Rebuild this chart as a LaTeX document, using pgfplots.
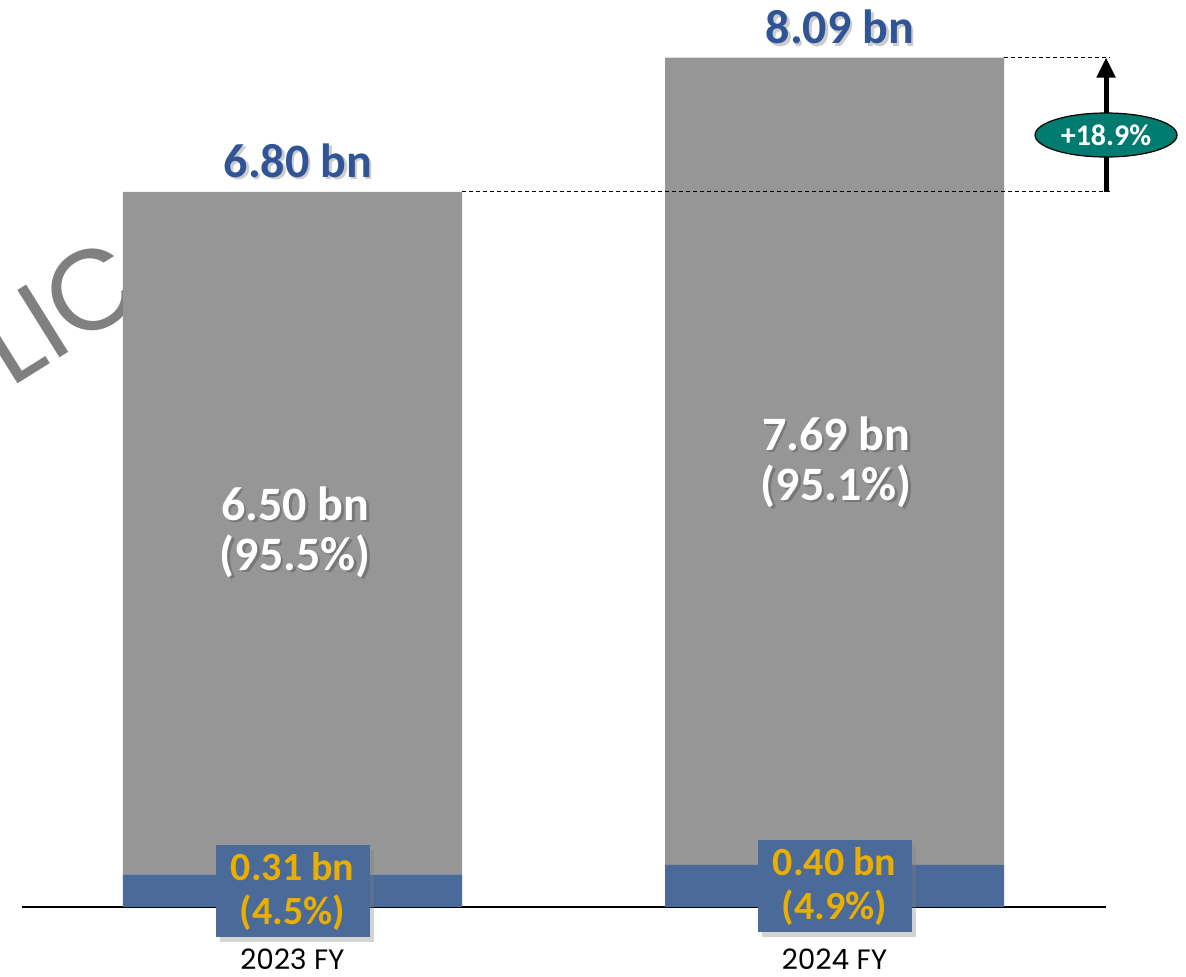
\documentclass[border=0pt]{standalone}
\usepackage{pgfplots}
\pgfplotsset{compat=1.18}
\usepackage{fontspec}
\setmainfont{Carlito}
\newfontfamily\gothic{Poppins}
\usetikzlibrary{shadows,shapes.geometric,arrows.meta}
\definecolor{barblue}{RGB}{74,106,154}
\definecolor{bargray}{RGB}{150,150,150}
\definecolor{topblue}{RGB}{47,85,151}
\definecolor{labgold}{RGB}{234,174,0}
\definecolor{tealc}{RGB}{0,123,111}
\definecolor{wmgray}{RGB}{128,128,128}
\newcommand{\shlabel}[4]{%
  \node[text=black, opacity=0.2, align=center, font=\bfseries\fontsize{#3}{25}\selectfont, xshift=1.3pt, yshift=-1.3pt] at (#1) {#4};
  \node[text=#2, align=center, font=\bfseries\fontsize{#3}{25}\selectfont] at (#1) {#4};}
\begin{document}
\begin{tikzpicture}
\useasboundingbox (0,0) rectangle (593pt,488.5pt);
\node[rotate=32, anchor=base west, text=wmgray, font=\gothic\fontsize{57}{57}\selectfont, inner sep=0pt] at (5pt,294pt) {LIC};
\begin{axis}[
  at={(10.75pt,35pt)}, anchor=south west,
  scale only axis, width=542pt, height=453.5pt,
  xmin=-0.5, xmax=1.5, ymin=0, ymax=8.638,
  ybar stacked, bar width=0.6255,
  axis x line=bottom, axis y line=none,
  axis line style={-, line width=0.75pt},
  xtick={0,1}, xticklabels={2023 FY, 2024 FY},
  xtick style={draw=none},
  xticklabel style={font=\gothic\fontsize{14}{14}\selectfont, yshift=-15.5pt},
  ytick=\empty,
  clip=false,
]
\addplot[fill=barblue, draw=none] coordinates {(0,0.31) (1,0.40)};
\addplot[fill=bargray, draw=none] coordinates {(0,6.50) (1,7.69)};
\coordinate (d1a) at (0.3128,6.81);
\coordinate (d1b) at (1.508,6.81);
\coordinate (d2a) at (1.3128,8.09);
\coordinate (d2b) at (1.508,8.09);
\coordinate (arA) at (1.501,6.81);
\coordinate (arB) at (1.501,8.09);
\coordinate (ell) at (1.501,7.352);
\coordinate (t1) at (0.01,7.11);
\coordinate (t2) at (1.01,8.381);
\coordinate (m1) at (0.005,3.571);
\coordinate (m2) at (1.003,4.238);
\coordinate (b1) at (0,0.152);
\coordinate (b2) at (1,0.2);
\end{axis}
% dashed reference lines and growth arrow
\draw[dash pattern=on 2pt off 1.5pt, line width=0.5pt] (d1a) -- (d1b);
\draw[dash pattern=on 2pt off 1.5pt, line width=0.5pt] (d2a) -- (d2b);
\draw[line width=2.5pt, -{Triangle[width=9pt,length=10pt]}] (arA) -- (arB);
\node[ellipse, fill=tealc, draw=black, line width=0.6pt, minimum width=71pt, minimum height=22pt, inner sep=0pt, text=white, font=\bfseries\fontsize{15}{15}\selectfont] at (ell) {+18.9\%};
% totals
\shlabel{t1}{topblue}{24}{6.80 bn}
\shlabel{t2}{topblue}{24}{8.09 bn}
% grey segment labels
\shlabel{m1}{white}{24}{6.50 bn\\(95.5\%)}
\shlabel{m2}{white}{24}{7.69 bn\\(95.1\%)}
% blue segment boxes
\node[fill=barblue, drop shadow={opacity=0.35,shadow xshift=2pt,shadow yshift=-2.5pt}, minimum width=77pt, minimum height=46pt, inner sep=0pt, text=labgold, align=center, font=\bfseries\fontsize{20}{22}\selectfont] at (b1) {0.31 bn\\(4.5\%)};
\node[fill=barblue, drop shadow={opacity=0.35,shadow xshift=2pt,shadow yshift=-2.5pt}, minimum width=77pt, minimum height=46pt, inner sep=0pt, text=labgold, align=center, font=\bfseries\fontsize{20}{22}\selectfont] at (b2) {0.40 bn\\(4.9\%)};
\end{tikzpicture}
\end{document}
